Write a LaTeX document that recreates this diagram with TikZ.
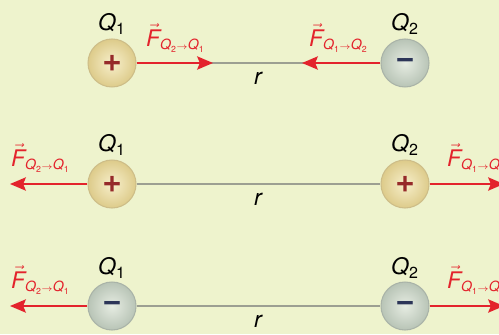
\documentclass[tikz,border=0pt]{standalone}
\usepackage{amsmath}
\usepackage{fontspec}
\setmainfont{TeX Gyre Heros}
\usetikzlibrary{arrows.meta}
\definecolor{bgcol}{HTML}{EEF3CD}
\definecolor{forcered}{HTML}{E3232C}
\definecolor{linegray}{HTML}{9C9F92}
\definecolor{plusred}{HTML}{962A2A}
\definecolor{minusblue}{HTML}{2C3558}
\definecolor{posin}{HTML}{F7EFCB}
\definecolor{posout}{HTML}{DDCB8A}
\definecolor{posedge}{HTML}{CDBD88}
\definecolor{negin}{HTML}{E6ECE2}
\definecolor{negout}{HTML}{B8C4B6}
\definecolor{negedge}{HTML}{A9B3A8}
\newcommand{\subsz}{\fontsize{8}{8}\selectfont}
\newcommand{\subsubsz}{\fontsize{5}{5}\selectfont\upshape}
\newcommand{\force}[2]{$\vec{\text{\itshape F}}$\raisebox{-2pt}{\subsz\itshape Q\raisebox{-1.5pt}{\subsubsz #1}$\scriptscriptstyle\rightarrow$Q\raisebox{-1.5pt}{\subsubsz #2}}}
\newcommand{\charge}[1]{$\text{\itshape Q}_{\text{#1}}$}
\tikzset{
  posball/.style={circle,minimum size=0.96cm,inner sep=0pt,draw=posedge,line width=0.6pt,
    inner color=posin,outer color=posout,text=plusred,font=\fontsize{19}{19}\bfseries\selectfont},
  negball/.style={circle,minimum size=0.96cm,inner sep=0pt,draw=negedge,line width=0.6pt,
    inner color=negin,outer color=negout,text=minusblue,font=\fontsize{19}{19}\bfseries\selectfont},
  distline/.style={draw=linegray,line width=1.2pt},
  forcearrow/.style={->,draw=forcered,line width=1.2pt},
  flabel/.style={text=forcered}
}
\begin{document}
\begin{tikzpicture}[x=0.02cm,y=-0.02cm,>={Stealth[length=9pt,width=7.5pt,inset=1.5pt]},
  every node/.style={font=\fontsize{13}{15}\selectfont}]
\fill[bgcol] (0,0) rectangle (499,334);
\useasboundingbox (0,0) rectangle (499,334);
\clip (0,0) rectangle (499,334);
% attraction
\node[posball] (a1) at (112,63) {+};
\node[negball] (a2) at (405,63) {−};
\coordinate (a3) at (213,63);
\coordinate (a4) at (302,63);
\draw[distline] (a1) -- (a2);
\draw[forcearrow] (a1) -- (a3);
\draw[forcearrow] (a2) -- (a4);
\node (qa1) at (112,24) {\charge{1}};
\node (qa2) at (405,24) {\charge{2}};
\node[flabel] (fa1) at (175,38) {\force{2}{1}};
\node[flabel] (fa2) at (338,38) {\force{1}{2}};
\node (ra) at (258,78) {\itshape r};
% repulsion, positive
\node[posball] (b1) at (112,184) {+};
\node[posball] (b2) at (405,184) {+};
\coordinate (b3) at (10,184);
\coordinate (b4) at (504,184);
\draw[distline] (b1) -- (b2);
\draw[forcearrow] (b1) -- (b3);
\draw[forcearrow] (b2) -- (b4);
\node (qb1) at (112,145) {\charge{1}};
\node (qb2) at (405,145) {\charge{2}};
\node[flabel] (fb1) at (40,158) {\force{2}{1}};
\node[flabel] (fb2) at (476,158) {\force{1}{2}};
\node (rb) at (258,199) {\itshape r};
% repulsion, negative
\node[negball] (c1) at (112,306) {−};
\node[negball] (c2) at (405,306) {−};
\coordinate (c3) at (10,306);
\coordinate (c4) at (504,306);
\draw[distline] (c1) -- (c2);
\draw[forcearrow] (c1) -- (c3);
\draw[forcearrow] (c2) -- (c4);
\node (qc1) at (112,268) {\charge{1}};
\node (qc2) at (405,268) {\charge{2}};
\node[flabel] (fc1) at (40,280) {\force{2}{1}};
\node[flabel] (fc2) at (476,280) {\force{1}{2}};
\node (rc) at (258,321) {\itshape r};
\end{tikzpicture}
\end{document}
